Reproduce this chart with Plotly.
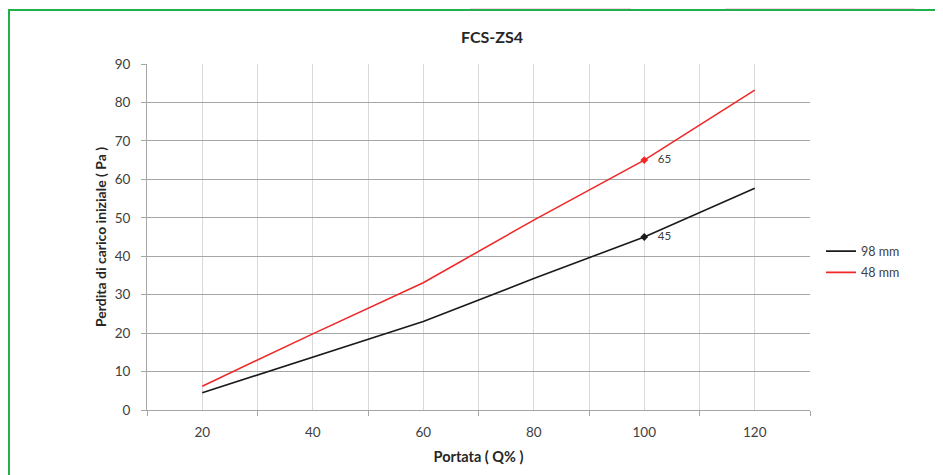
import plotly.graph_objects as go

# Data
portata = [20, 40, 60, 80, 100, 120]
s98_name = "98 mm"
s98 = [4.5, 13.7, 23.0, 34.2, 45, 57.7]
s48_name = "48 mm"
s48 = [6.2, 19.8, 33.1, 49.4, 65, 83.2]
label_x = 100
x_tick_vals = [20, 40, 60, 80, 100, 120]
y_tick_vals = [0, 10, 20, 30, 40, 50, 60, 70, 80, 90]

FONT = "Lato"
TXT = "#404040"
OFF = 8  # page body margin offset

# plot area in screen pixels
PL, PR, PT, PB = 147, 810, 64, 410
PW, PH = PR - PL, PB - PT

def px(x):
    return (x - PL) / PW

def py(y):
    return (PB - y) / PH

fig = go.Figure()
fig.add_trace(go.Scatter(x=portata, y=s98, name=s98_name, mode="lines",
                         legendgroup="a",
                         line=dict(color="#1a1a1a", width=1.6)))
fig.add_trace(go.Scatter(x=portata, y=s48, name=s48_name, mode="lines",
                         legendgroup="b",
                         line=dict(color="#f02828", width=1.6)))
i = portata.index(label_x)
for ys, col in ((s98, "#1a1a1a"), (s48, "#f02828")):
    fig.add_trace(go.Scatter(x=[portata[i]], y=[ys[i]], mode="markers+text",
                             text=[f"   {ys[i]:g}"], textposition="middle right",
                             textfont=dict(family=FONT, size=11.5, color=TXT),
                             marker=dict(symbol="diamond", size=6, color=col),
                             showlegend=False, hoverinfo="skip"))

fig.update_layout(
    width=943, height=475,
    margin=dict(l=PL - OFF, r=943 - (PR - OFF), t=PT - OFF, b=475 - (PB - OFF)),
    paper_bgcolor="white", plot_bgcolor="white",
    font=dict(family=FONT, size=13, color=TXT),
    title=dict(text="<b>FCS-ZS4</b>", x=(492 - OFF) / 943, xanchor="center",
               y=1 - (37 - OFF) / 475, yanchor="middle",
               font=dict(family=FONT, size=16, color="#262626")),
    legend=dict(x=px(821), xanchor="left", y=py(262), yanchor="middle",
                font=dict(family=FONT, size=12.5, color=TXT),
                bgcolor="rgba(0,0,0,0)", tracegroupgap=2),
    shapes=[
        dict(type="rect", xref="paper", yref="paper",
             x0=px(470), x1=px(631), y0=py(10), y1=py(-10),
             line=dict(width=0), fillcolor="#f9d3ea"),
        dict(type="rect", xref="paper", yref="paper",
             x0=px(725), x1=px(915), y0=py(10), y1=py(-10),
             line=dict(width=0), fillcolor="#f9d3ea"),
        dict(type="rect", xref="paper", yref="paper",
             x0=px(9), x1=px(960), y0=py(490), y1=py(10),
             line=dict(color="#22b04b", width=2), fillcolor="rgba(0,0,0,0)"),
    ],
)

fig.update_xaxes(
    range=[10, 130], tickmode="array", tickvals=x_tick_vals,
    ticks="", showgrid=True, gridcolor="#d9d9d9", gridwidth=1,
    showline=True, linecolor="#a6a6a6", linewidth=1,
    zeroline=False, tickfont=dict(family=FONT, size=13.5, color=TXT),
    ticklabelstandoff=10,
    minor=dict(tickmode="array", tickvals=[10, 30, 50, 70, 90, 110, 130],
               ticks="outside", ticklen=5, tickcolor="#a6a6a6",
               showgrid=True, gridcolor="#d9d9d9", gridwidth=1),
    title=dict(text="<b>Portata ( Q% )</b>", standoff=12,
               font=dict(family=FONT, size=14.5, color="#262626")),
)
fig.update_yaxes(
    range=[0, 90], tickmode="array", tickvals=y_tick_vals,
    ticks="outside", ticklen=5, tickcolor="#a6a6a6",
    showgrid=True, gridcolor="#a6a6a6", gridwidth=1,
    showline=True, linecolor="#a6a6a6", linewidth=1,
    zeroline=False, tickfont=dict(family=FONT, size=13.5, color=TXT),
    ticklabelstandoff=8,
    title=dict(text="<b>Perdita di carico iniziale ( Pa )</b>", standoff=4,
               font=dict(family=FONT, size=14, color="#262626")),
)

fig.write_html("out.html")
